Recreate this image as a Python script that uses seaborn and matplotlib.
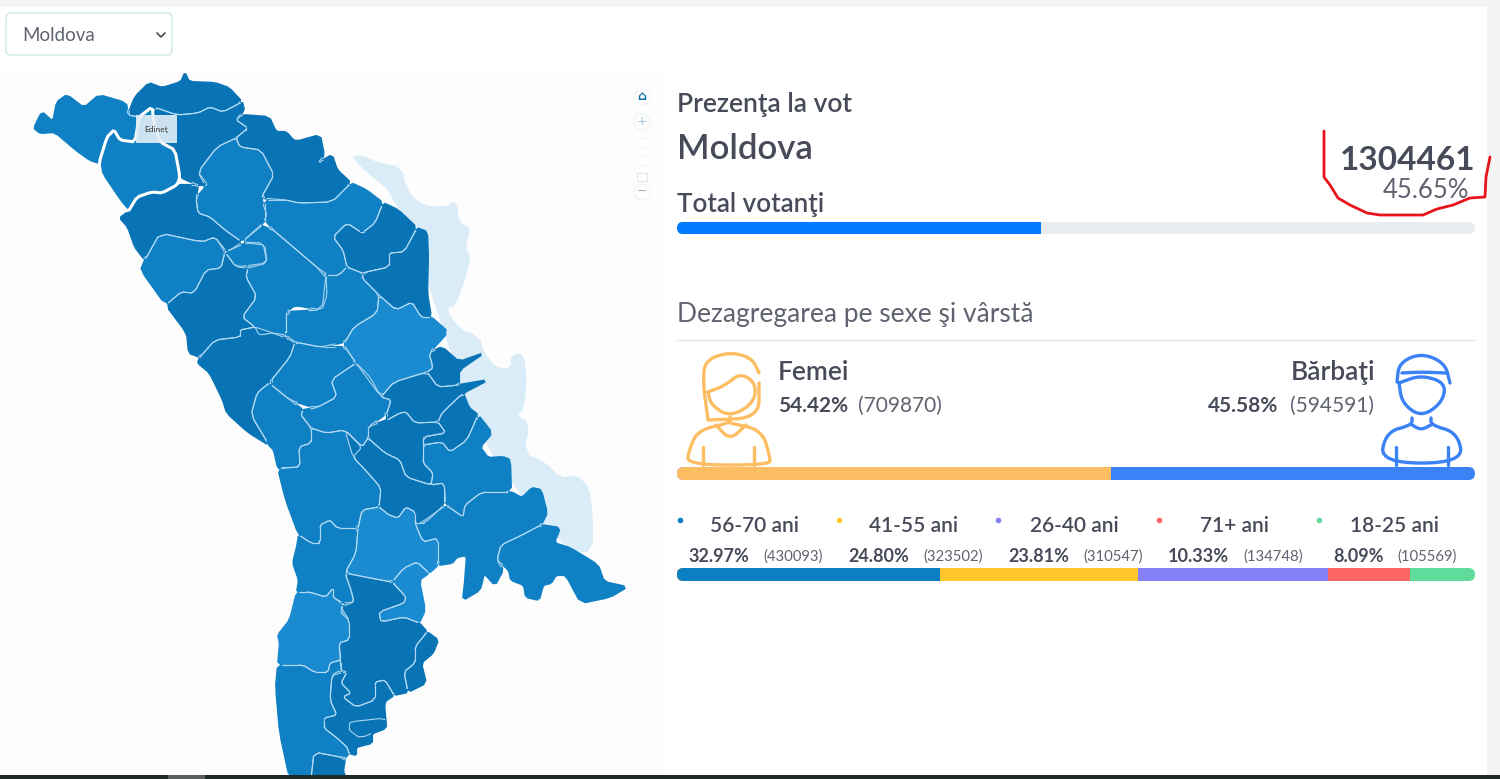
import numpy as np
import matplotlib
matplotlib.use("Agg")
import matplotlib.pyplot as plt
from matplotlib.collections import LineCollection
from matplotlib.patches import FancyBboxPatch, Rectangle, Circle
from matplotlib.path import Path
import seaborn as sns

# ---------- values ----------
region_name = "Moldova"
turnout_total = 1304461
turnout_pct = 45.65
gender_labels = ["Femei", "Bărbaţi"]
gender_pct = [54.42, 45.58]
gender_count = [709870, 594591]
age_labels = ["56-70 ani", "41-55 ani", "26-40 ani", "71+ ani", "18-25 ani"]
age_pct = [32.97, 24.80, 23.81, 10.33, 8.09]
age_count = [430093, 323502, 310547, 134748, 105569]
age_colors = ["#0a7fc2", "#ffc72c", "#8480f8", "#ff6464", "#5fdc9c"]
gender_colors = ["#fdbe63", "#3b82f6"]

# ---------- map geometry (page pixels) ----------
transnistria = [(349,157),(362,155),(379,163),(402,167),(406,188),(421,205),(446,207),(457,200),(459,223),(471,228),(465,247),(471,257),(465,280),(455,307),(446,307),(457,327),(480,337),(484,353),(497,368),(511,368),(511,355),(524,353),(527,380),(524,410),(516,415),(530,423),(524,453),(547,463),(560,478),(577,475),(589,487),(593,513),(593,552),(572,552),(540,520),(480,440),(440,320),(400,200)]
briceni = [(34,128),(42,112),(53,122),(57,102),(67,95),(84,108),(99,95),(126,103),(128,115),(139,117),(135,140),(126,142),(114,130),(107,137),(99,163),(90,160),(76,150),(55,132),(40,133)]
ocnita = [(128,115),(135,97),(149,83),(162,88),(181,82),(185,73),(189,82),(215,83),(229,88),(242,102),(223,112),(210,107),(198,113),(177,115),(154,107),(139,117)]
donduseni = [(177,115),(198,113),(210,107),(223,112),(242,102),(244,110),(236,120),(248,128),(236,138),(217,147),(198,172),(208,185),(198,185),(180,177),(175,150),(160,142),(154,107)]
soroca = [(236,120),(242,115),(269,117),(276,132),(286,132),(295,142),(320,135),(324,155),(318,163),(332,155),(337,170),(351,183),(332,202),(299,203),(286,200),(261,198),(274,175),(261,150),(240,147),(236,138),(248,128)]
drochia = [(217,147),(236,138),(240,147),(261,150),(274,175),(261,198),(267,215),(263,223),(242,242),(225,230),(210,217),(198,213),(196,198),(206,187),(198,172)]
riscani = [(128,212),(137,197),(152,192),(162,193),(177,185),(198,185),(196,198),(198,213),(210,217),(225,230),(242,242),(227,252),(215,237),(202,242),(160,233),(145,260),(135,247),(128,227),(120,218)]
falesti = [(145,260),(160,233),(202,242),(215,237),(225,252),(221,268),(206,270),(194,293),(181,292),(166,305),(141,270)]
balti = [(225,252),(246,243),(265,245),(267,263),(236,267)]
singerei = [(248,268),(267,263),(263,243),(242,242),(265,223),(326,275),(327,295),(322,310),(295,305),(286,312),(286,335),(273,333),(259,335),(255,327),(242,317),(257,297),(246,277)]
floresti = [(265,223),(265,200),(286,200),(299,203),(332,202),(351,183),(366,190),(383,203),(375,223),(362,233),(347,223),(333,237),(343,250),(347,267),(339,275),(326,275)]
rezina = [(333,237),(347,223),(362,233),(375,223),(383,203),(398,210),(417,228),(404,252),(389,253),(389,267),(366,272),(362,273),(347,267),(343,250)]
soldanesti = [(417,228),(427,232),(428,257),(427,293),(431,317),(421,317),(412,302),(396,310),(379,295),(362,278),(366,272),(389,267),(389,253),(404,252)]
telenesti = [(286,335),(286,312),(322,310),(326,275),(339,275),(347,267),(362,273),(362,278),(379,295),(377,313),(354,327),(345,342),(320,347),(295,342)]
orhei = [(379,295),(396,310),(412,302),(421,317),(431,317),(448,332),(429,353),(433,368),(427,372),(394,382),(381,397),(356,363),(345,347),(345,342),(354,327),(377,313)]
dubasari = [(429,353),(442,347),(459,362),(484,353),(459,370),(459,385),(438,387),(427,372),(433,368)]
ungheni = [(166,305),(181,292),(194,293),(206,270),(221,268),(225,252),(236,267),(248,268),(246,277),(257,297),(242,317),(255,327),(240,330),(240,337),(215,340),(200,357),(189,353),(187,333)]
nisporeni = [(200,357),(215,340),(240,337),(240,330),(255,327),(273,333),(295,342),(290,357),(269,383),(257,393),(251,415),(269,445),(248,432),(227,413),(223,400),(210,373),(198,363)]
straseni = [(269,383),(290,400),(303,410),(301,415),(311,428),(311,443),(299,447),(300,467),(285,468),(278,468),(274,450),(269,445),(251,415),(257,393)]
calarasi = [(295,342),(320,347),(345,347),(356,363),(331,380),(337,397),(316,408),(290,400),(269,383),(290,357)]
chisinau = [(356,363),(370,377),(381,397),(391,400),(387,413),(368,427),(368,438),(362,447),(345,430),(326,433),(311,428),(301,415),(303,410),(316,408),(337,397),(331,380)]
criuleni = [(381,397),(394,382),(427,372),(438,387),(459,385),(488,380),(463,393),(442,413),(438,422),(415,423),(406,412),(400,413),(387,420),(387,413),(391,400)]
anenii = [(469,408),(478,415),(467,440),(450,452),(442,442),(423,445),(423,437),(446,433),(438,422),(442,413),(463,393)]
ialoveni = [(368,427),(387,420),(400,413),(406,412),(415,423),(438,422),(446,433),(423,437),(423,463),(433,473),(431,485),(406,477),(400,460),(385,453),(368,438)]
causeni = [(478,415),(492,433),(480,447),(488,458),(503,457),(510,460),(511,492),(482,492),(465,505),(463,517),(446,505),(444,483),(431,485),(433,473),(423,463),(423,445),(442,442),(450,452),(467,440)]
hincesti = [(311,428),(326,433),(345,430),(362,447),(353,457),(368,473),(381,488),(379,507),(362,510),(358,528),(337,528),(330,520),(320,525),(320,543),(311,543),(299,535),(286,500),(278,468),(300,467),(299,447),(311,443)]
center = [(345,430),(362,447),(368,438),(385,453),(400,460),(406,477),(431,485),(444,483),(444,505),(425,523),(415,523),(415,512),(406,507),(398,518),(389,515),(379,507),(381,488),(368,473),(353,457)]
bender = [(421,523),(446,505),(463,517),(465,505),(482,492),(511,492),(522,498),(532,488),(541,490),(547,513),(541,525),(522,535),(501,545),(497,560),(503,570),(495,585),(484,573),(480,590),(463,600),(465,582),(467,555),(457,557),(452,563),(438,565),(438,538),(423,542),(415,523)]
stefan = [(541,525),(560,528),(554,543),(570,548),(598,565),(604,582),(627,587),(610,597),(581,603),(566,575),(556,575),(551,583),(543,585),(539,600),(526,597),(524,585),(511,580),(509,570),(497,560),(501,545),(522,535)]
cimislia = [(358,528),(362,510),(379,507),(389,515),(398,518),(406,507),(415,512),(415,523),(423,542),(438,538),(438,565),(429,573),(417,562),(404,568),(392,582),(370,578),(345,573),(356,553)]
leova = [(299,535),(311,543),(320,543),(320,525),(330,520),(337,528),(358,528),(356,553),(345,573),(351,590),(354,602),(343,603),(333,597),(333,588),(326,597),(309,592),(297,592),(299,580),(293,563),(297,547)]
basarabeasca = [(392,582),(404,568),(417,562),(429,573),(419,580),(425,610),(419,623),(404,617),(381,622),(379,612),(404,603),(406,597)]
comrat = [(345,573),(370,578),(392,582),(406,597),(404,603),(379,612),(381,622),(404,617),(419,623),(427,632),(415,647),(415,663),(404,672),(408,692),(394,695),(385,680),(375,682),(375,700),(356,707),(343,697),(351,693),(341,683),(347,672),(341,670),(339,643),(349,640),(349,620),(341,607),(354,602),(351,590)]
taraclia = [(427,632),(438,640),(433,653),(421,663),(426,683),(408,692),(404,672),(415,663),(415,647)]
cantemir = [(297,592),(309,592),(326,597),(333,588),(333,597),(341,603),(341,613),(349,620),(349,640),(339,643),(341,660),(330,663),(328,672),(314,672),(303,665),(278,665),(280,643),(278,635),(290,620)]
cahul = [(278,665),(303,665),(314,672),(328,672),(330,663),(341,660),(341,670),(332,675),(330,700),(337,715),(324,718),(324,728),(337,738),(347,747),(349,753),(345,758),(314,752),(311,779),(290,779),(280,733),(276,687)]
vulcanesti = [(332,675),(347,672),(341,683),(351,693),(343,697),(356,707),(375,700),(375,682),(385,680),(394,695),(384,702),(386,728),(372,733),(372,743),(356,747),(356,755),(349,753),(347,747),(337,738),(324,728),(324,718),(337,715),(330,700)]
isle_south = [(349,722),(385,718),(386,728),(360,738),(349,730)]
south_tip = [(314,752),(345,758),(343,772),(347,779),(311,779)]
edinet = [(107,137),(114,130),(120,140),(135,142),(139,117),(152,107),(154,123),(160,142),(175,150),(180,177),(177,185),(162,193),(152,192),(137,197),(128,212),(120,203),(101,175),(99,163)]

# shade class of each district: 0 strongest, 1 middle, 2 lightest
districts = [
    (briceni,1),(ocnita,0),(donduseni,0),(soroca,0),(drochia,1),(riscani,0),(falesti,1),(balti,1),
    (singerei,1),(floresti,1),(rezina,0),(soldanesti,0),(telenesti,1),(orhei,2),(dubasari,0),
    (ungheni,0),(nisporeni,0),(straseni,1),(calarasi,1),(chisinau,1),(criuleni,0),(anenii,0),
    (ialoveni,0),(causeni,1),(hincesti,1),(center,0),(bender,1),(stefan,1),(cimislia,2),(leova,1),
    (basarabeasca,2),(comrat,0),(taraclia,0),(cantemir,2),(cahul,1),(vulcanesti,0),(isle_south,0),(south_tip,0),
]
shades = ["#0874b6", "#0f80c3", "#1a8bd0"]

# icon and annotation strokes (page pixels)
woman_strokes = [
    [(708,420),(703,383),(705,360),(730,352),(752,358),(759,373)],
    [(759,383),(759,418),(708,420)],
    [(708,392),(726,385),(740,373),(756,383),(754,403),(730,417),(711,405),(708,392)],
    [(730,417),(730,423),(698,430),(689,450),(687,465),(770,465),(770,457),(762,430),(730,423)],
    [(716,425),(730,440),(746,425)],
    [(703,447),(703,465)],[(754,447),(754,465)],
]
man_strokes = [
    [(1397,382),(1399,363),(1421,353),(1445,363),(1450,383)],
    [(1402,373),(1421,372),(1446,373)],
    [(1399,383),(1421,375),(1446,383),(1442,403),(1421,417),(1402,403),(1399,383)],
    [(1412,418),(1412,425),(1386,432),(1380,463),(1463,463),(1458,433),(1431,425),(1431,418)],
    [(1412,425),(1421,430),(1431,425)],
    [(1396,447),(1396,465)],[(1448,447),(1448,465)],
]
red_mark = [(1324,131),(1324,177),(1330,185),(1338,198),(1350,205),(1367,213),(1380,215),(1423,215),(1437,209),(1453,205),(1470,198),(1485,197),(1486,177),(1490,157)]


def chaikin(pts, rounds=1, closed=True, cut=0.25):
    """Corner cutting, to give traced outlines their soft shape."""
    p = np.asarray(pts, float)
    for _ in range(rounds):
        if closed:
            q = np.roll(p, -1, axis=0)
            p = np.column_stack([(1 - cut) * p + cut * q, cut * p + (1 - cut) * q]).reshape(-1, 2)
        else:
            a, b = p[:-1], p[1:]
            mid = np.column_stack([(1 - cut) * a + cut * b, cut * a + (1 - cut) * b]).reshape(-1, 2)
            p = np.vstack([p[0], mid, p[-1]])
    return p


def inner_borders(rings, step=2.0, reach=3.0):
    """Pieces of the district outlines with land on both sides (no line on the coast)."""
    paths = [Path(np.vstack([r, r[0]])) for r in rings]
    pieces = []
    for r in rings:
        a, b = r, np.roll(r, -1, axis=0)
        for p, q in zip(a, b):
            d = q - p
            length = np.hypot(*d)
            if length == 0:
                continue
            n = np.array([-d[1], d[0]]) / length
            ts = np.linspace(0, 1, int(length / step) + 2)
            for t0, t1 in zip(ts[:-1], ts[1:]):
                mid = p + d * (t0 + t1) / 2
                sides = np.array([mid + n * reach, mid - n * reach])
                if all(any(pa.contains_point(s) for pa in paths) for s in sides):
                    pieces.append([p + d * t0, p + d * t1])
    return pieces


# ---------- figure ----------
sns.set_theme(style="white")
plt.rcParams["font.family"] = ["Lato", "DejaVu Sans"]
W, H = 1500, 779
fig = plt.figure(figsize=(15, 7.79), dpi=100, facecolor="white")
page = fig.add_axes([0, 0, 1, 1])
page.set_xlim(0, W); page.set_ylim(H, 0); page.axis("off")

INK = "#474b59"; SOFT = "#5f6370"
page.add_patch(Rectangle((0, 0), W, 7, color="#f4f4f4", lw=0))
page.add_patch(Rectangle((1487, 0), 13, H, color="#f4f4f4", lw=0))
page.add_patch(Rectangle((0, 70), 665, 705, color="#fdfdfd", lw=0))
page.add_patch(Rectangle((0, 775), W, 4, color="#1d2a26", lw=0, zorder=20))
page.add_patch(Rectangle((168, 775), 37, 4, color="#5a5f5d", lw=0, zorder=21))

# select box
page.add_patch(FancyBboxPatch((9, 16), 160, 36, boxstyle="round,pad=3,rounding_size=5",
                              fc="white", ec="#cfe8ea", lw=1))
page.text(22, 35.5, region_name, fontsize=13.5, color=SOFT, va="center")
page.plot([157, 161, 165], [33, 37, 33], color="#555", lw=1.3)

# map
page.fill(*chaikin(transnistria).T, color="#d9ecf8", lw=0, zorder=2)
rings = [chaikin(poly, 1, cut=0.15) for poly, _ in districts]
for xy, (_, s) in zip(rings, districts):
    page.fill(*xy.T, facecolor=shades[s], edgecolor=shades[s], lw=1.6, zorder=3)
for xy, (_, s) in zip(rings, districts):
    page.fill(*xy.T, facecolor=shades[s], edgecolor="none", zorder=3.2)
page.add_collection(LineCollection(inner_borders(rings), colors="#b5dcf4", linewidths=0.8, zorder=3.5))
page.fill(*chaikin(edinet, 1, cut=0.15).T, facecolor=shades[1], edgecolor="white", lw=2.2, zorder=4)
page.add_patch(Rectangle((136, 115), 41, 28, fc="#e4eff7", ec="none", alpha=0.9, zorder=5))
page.text(156, 129, "Edineţ", fontsize=6, color="#333", ha="center", va="center", zorder=6)

# zoom control
for cy, sym, col in [(97, "⌂", "#0a6ea8"), (122, "+", "#9dc3d8"), (192, "−", "#a9a9a9")]:
    page.add_patch(Circle((642, cy), 8, fc="white", ec="#eef2f5", lw=0.8))
    page.text(642, cy - 0.5, sym, fontsize=9, color=col, ha="center", va="center",
              family=["DejaVu Sans"], fontweight="bold" if sym == "⌂" else "normal")
for y in (138, 147, 156, 165):
    page.plot([637, 648], [y, y], color="#f5f5f5", lw=0.8)
page.add_patch(Rectangle((637, 173), 10, 8, fc="white", ec="#e6e6e6", lw=0.8))

# headings
page.text(677, 104, "Prezenţa la vot", fontsize=19, color=INK, va="center", fontweight="semibold")
page.text(677, 149, region_name, fontsize=25, color=INK, va="center", fontweight="semibold")
page.text(677, 204, "Total votanţi", fontsize=18.7, color=INK, va="center", fontweight="semibold")
page.text(1475, 160, str(turnout_total), fontsize=24, color=INK, ha="right", va="center", fontweight="bold")
page.text(1469, 190, f"{turnout_pct:.2f}%", fontsize=18.5, color=SOFT, ha="right", va="center")
page.text(677, 314, "Dezagregarea pe sexe şi vârstă", fontsize=19, color=SOFT, va="center")
page.plot([677, 1475], [339.5, 339.5], color="#e4e4e4", lw=1)

# gender
page.text(778, 372, gender_labels[0], fontsize=19, color=INK, va="center", fontweight="semibold")
page.text(778, 406, f"{gender_pct[0]:.2f}%", fontsize=15, color=INK, va="center", fontweight="bold")
page.text(858, 406, f"({gender_count[0]})", fontsize=15, color=SOFT, va="center")
page.text(1375, 372, gender_labels[1], fontsize=19, color=INK, ha="right", va="center", fontweight="semibold")
page.text(1208, 406, f"{gender_pct[1]:.2f}%", fontsize=15, color=INK, va="center", fontweight="bold")
page.text(1374, 406, f"({gender_count[1]})", fontsize=15, color=SOFT, ha="right", va="center")
for strokes, c in [(woman_strokes, gender_colors[0]), (man_strokes, gender_colors[1])]:
    for s in strokes:
        page.plot(*chaikin(s, 3, closed=False).T, color=c, lw=2.4, solid_capstyle="round", solid_joinstyle="round")

# age legend
centers = [755, 914, 1074, 1234, 1394]
dots = [680, 839, 998, 1159, 1319]
pct_x = [688, 848, 1008, 1168, 1333]
cnt_x = [763, 923, 1083, 1243, 1397]
for i, lab in enumerate(age_labels):
    page.text(centers[i], 525.5, lab, fontsize=15, color=INK, ha="center", va="center", fontweight="semibold")
    page.scatter([dots[i]], [520], s=16, color=age_colors[i], lw=0)
    page.text(pct_x[i], 556.5, f"{age_pct[i]:.2f}%", fontsize=13, color=INK, va="center", fontweight="bold")
    page.text(cnt_x[i], 556.5, f"({age_count[i]})", fontsize=10.7, color=SOFT, va="center")


def stacked_bar(values, colors, top, bottom, x0=677, x1=1475):
    """Stacked 0-100 bar drawn by seaborn: cumulative totals, longest first."""
    ax = fig.add_axes([x0 / W, 1 - bottom / H, (x1 - x0) / W, (bottom - top) / H])
    cum = np.cumsum(values)
    for c, col in list(zip(cum, colors))[::-1]:
        sns.barplot(x=[c], y=["bar"], color=col, saturation=1, width=1, orient="h", ax=ax,
                    linewidth=0, edgecolor="none")
    ax.set_xlim(0, 100); ax.set_ylim(0.5, -0.5); ax.axis("off"); ax.patch.set_alpha(0)
    r = (bottom - top) / 2
    clip = FancyBboxPatch((x0 + r, top + r), x1 - x0 - 2 * r, bottom - top - 2 * r,
                          boxstyle=f"round,pad={r},rounding_size={r}", transform=page.transData)
    for p in ax.patches:
        p.set_clip_path(clip)
    return ax


stacked_bar([turnout_pct, 100 - turnout_pct], ["#007bff", "#e9ecef"], 222, 234)
stacked_bar(gender_pct, gender_colors, 467, 480)
stacked_bar(age_pct, age_colors, 568, 581)

page.plot(*zip(*red_mark), color="#e8141c", lw=2, solid_capstyle="round", zorder=10)

fig.savefig("out.png", dpi=100, facecolor="white")
